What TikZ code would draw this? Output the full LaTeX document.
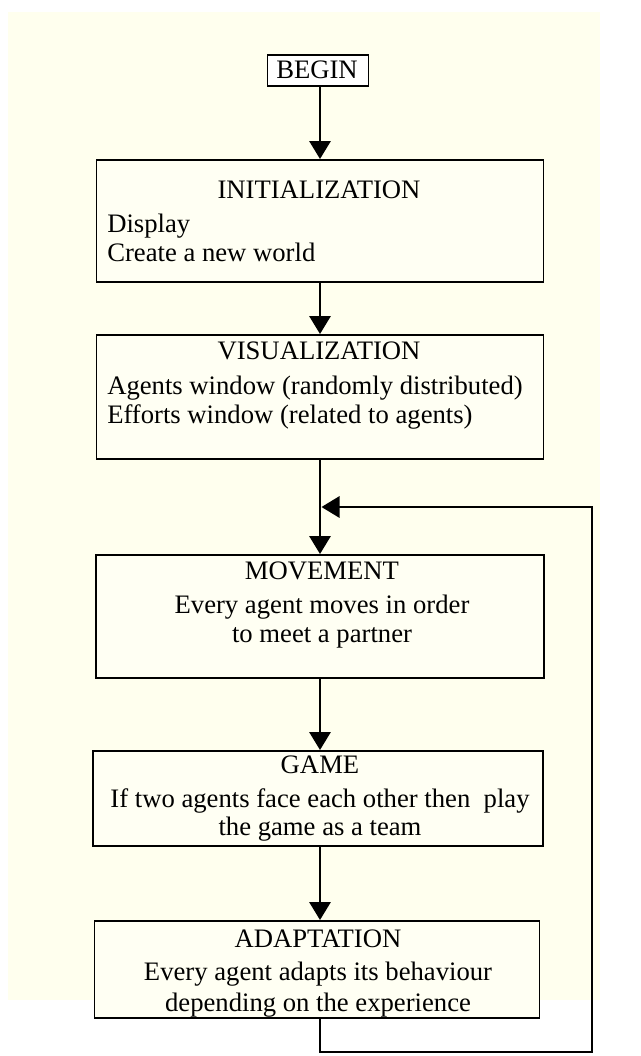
\documentclass[tikz,border=0pt]{standalone}
\usepackage{fontspec}
\setmainfont{Liberation Serif}
\usetikzlibrary{arrows.meta}
\definecolor{bgcream}{RGB}{255,255,238}
\definecolor{boxcream}{RGB}{255,255,243}
\begin{document}
\begin{tikzpicture}[x=0.75pt,y=-0.75pt,
  box/.style={draw=black, line width=1.4pt, fill=boxcream, inner sep=0pt, anchor=north},
  startbox/.style={box, fill=white},
  conn/.style={draw=black, line width=1.5pt, -{Triangle[length=13.5pt,width=16pt]}},
  title/.style={font=\fontsize{20pt}{24pt}\selectfont, inner sep=0pt, anchor=base},
  leftline/.style={title, anchor=base west}]
\useasboundingbox (0,0) rectangle (640,1056);
\fill[white] (0,0) rectangle (640,1056);
\fill[bgcream] (8,12) rectangle (600,1000);

% boxes
\node[startbox, minimum width=75.75pt, minimum height=23.25pt] (begin) at (318,54) {};
\node[box, minimum width=335.25pt, minimum height=91.5pt] (init) at (320,159) {};
\node[box, minimum width=335.25pt, minimum height=93pt] (vis) at (320,334) {};
\node[box, minimum width=336pt, minimum height=92.25pt] (move) at (320,554) {};
\node[box, minimum width=337.5pt, minimum height=71.25pt] (game) at (318,750) {};
\node[box, minimum width=333.75pt, minimum height=72.75pt] (adapt) at (317,920) {};

% texts
\node[title] (tbegin) at (317,79) {BEGIN};
\node[title] (tinit) at (319,198) {INITIALIZATION};
\node[leftline] (tinit1) at (107,232) {Display};
\node[leftline] (tinit2) at (107,261) {Create a new world};
\node[title] (tvis) at (319,359) {VISUALIZATION};
\node[leftline] (tvis1) at (107,394) {Agents window (randomly distributed)};
\node[leftline] (tvis2) at (107,423) {Efforts window (related to agents)};
\node[title] (tmove) at (322,579) {MOVEMENT};
\node[title] (tmove1) at (322,613) {Every agent moves in order};
\node[title] (tmove2) at (322,642) {to meet a partner};
\node[title] (tgame) at (320,773) {GAME};
\node[title] (tgame1) at (320,807) {If two agents face each other then\ \ play};
\node[title] (tgame2) at (320,835) {the game as a team};
\node[title] (tadapt) at (318,947) {ADAPTATION};
\node[title] (tadapt1) at (318,980) {Every agent adapts its behaviour};
\node[title] (tadapt2) at (318,1011) {depending on the experience};

% connectors
\coordinate (x0) at (320,0);
\draw[conn] (begin.south -| x0) -- (init.north -| x0);
\draw[conn] (init.south -| x0) -- (vis.north -| x0);
\draw[conn] (vis.south -| x0) -- (move.north -| x0);
\draw[conn] (move.south -| x0) -- (game.north -| x0);
\draw[conn] (game.south -| x0) -- (adapt.north -| x0);

\coordinate (c1) at (320,1052);
\coordinate (c2) at (592,1052);
\coordinate (c3) at (592,507);
\coordinate (join) at (321.5,507);
\draw[conn] (adapt.south -| x0) -- (c1) -- (c2) -- (c3) -- (join);
\end{tikzpicture}
\end{document}
